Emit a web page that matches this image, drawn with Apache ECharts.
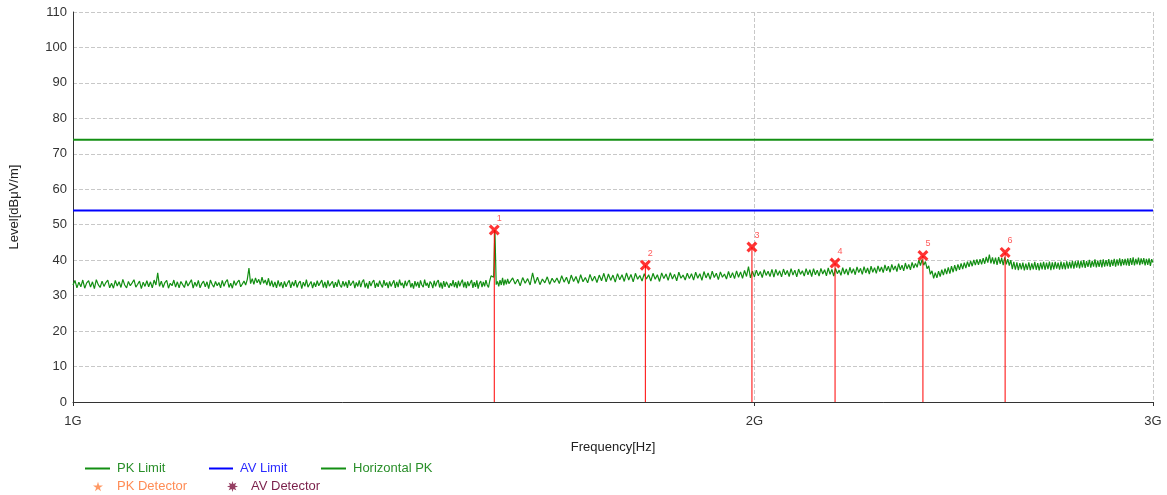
<!DOCTYPE html>
<html>
<head>
<meta charset="utf-8">
<script src="https://cdn.jsdelivr.net/npm/echarts@6/dist/echarts.min.js"></script>
<style>
html,body{margin:0;padding:0;background:#fff;}
#chart{width:1167px;height:495px;}
</style>
</head>
<body>
<div id="chart"></div>
<script>
// ---- data ----
// Sweep segment 1: 1000 MHz .. 1558 MHz, 2 MHz step
const seg1StartMHz = 1000;
const seg1StepMHz = 2;
const horizontalPKSeg1 = [
33.0,34.3,32.2,33.8,32.5,34.4,32.1,33.6,34.2,32.4,33.9,32.0,34.5,33.1,32.3,34.1,32.6,33.7,34.4,32.2,
33.5,32.1,34.3,32.7,33.9,32.3,34.6,33.0,32.2,34.0,32.8,33.6,34.5,32.4,33.2,34.1,32.0,33.8,32.6,34.2,
32.5,33.9,32.2,34.4,33.0,36.4,32.6,34.1,32.3,33.7,34.3,32.1,33.5,32.8,34.4,32.4,33.9,32.2,34.0,33.1,
32.3,34.2,32.7,33.6,34.5,32.1,33.8,32.6,34.3,32.2,33.4,34.1,32.5,33.9,32.0,34.4,33.2,32.4,34.0,32.8,
33.7,32.2,34.3,32.6,33.9,34.5,32.3,33.5,32.1,34.2,32.9,33.8,34.4,32.5,33.3,34.1,33.0,34.6,37.8,33.4,
34.8,33.2,35.0,33.6,34.6,33.1,35.2,33.5,34.4,33.0,34.9,32.7,34.2,32.4,33.9,32.2,34.3,32.6,33.8,32.1,
34.0,32.5,33.6,34.3,32.2,33.9,32.7,34.4,32.3,33.5,34.1,32.0,33.8,32.6,34.5,32.4,33.2,34.0,32.1,33.7,
32.5,34.2,32.8,33.6,34.4,32.3,33.9,32.1,34.3,32.7,33.4,34.0,32.2,33.8,32.5,34.5,33.0,32.3,34.1,32.6,
33.9,32.2,34.4,32.8,33.5,34.2,32.1,33.7,32.6,34.3,32.4,33.9,34.5,32.3,33.6,32.0,34.1,32.7,33.8,34.4,
32.2,33.6,32.5,34.2,33.1,32.3,34.4,32.8,33.7,32.1,34.0,32.6,33.5,34.3,32.2,33.9,32.4,34.5,32.9,33.6,
32.1,34.2,32.7,33.8,34.4,32.3,33.5,32.0,34.1,32.6,33.9,32.2,34.3,33.0,32.4,34.5,32.8,33.6,32.2,34.0,
33.4,32.1,34.2,32.6,33.8,34.4,32.3,33.7,32.0,34.1,32.5,33.9,34.3,32.2,33.5,32.7,34.4,32.4,33.8,32.1,
34.2,32.6,33.7,34.5,32.3,33.9,32.1,34.0,32.7,33.6,34.4,32.2,33.8,32.5,34.3,32.0,33.5,34.1,32.4,33.9,
32.6,34.4,33.0,32.3,34.2,35.6,36.0,35.2,48.5,33.1,34.0,32.6,34.4,33.0,35.0,32.9,34.5,33.2,34.7,33.4
];
// Sweep segment 2: 1560 MHz .. 3000 MHz, 4 MHz step
const seg2StartMHz = 1560;
const seg2StepMHz = 4;
const horizontalPKSeg2 = [
32.9,35.0,33.3,34.6,32.8,35.1,33.5,34.8,33.0,36.4,33.4,35.2,33.1,34.7,33.6,35.3,33.2,34.9,33.7,35.0,
33.4,35.6,33.8,35.2,33.3,35.8,34.0,35.4,33.5,35.9,33.9,35.1,33.6,36.0,34.1,35.5,33.7,35.8,34.2,36.3,
33.9,36.1,34.3,35.8,33.8,36.2,34.5,35.9,34.0,36.4,34.4,36.0,33.9,36.3,34.6,35.7,34.1,36.2,34.7,35.9,
34.1,36.3,34.6,35.9,34.0,36.4,34.8,36.1,34.3,36.5,34.7,36.0,34.2,36.6,34.9,35.8,34.4,36.3,34.8,36.2,
34.4,36.6,34.9,36.2,34.3,36.8,35.0,36.4,34.6,36.9,35.1,36.3,34.5,36.7,35.2,36.1,34.7,36.8,35.0,36.5,
34.8,37.0,35.2,36.7,34.9,37.1,35.4,38.2,35.0,36.9,35.3,37.2,35.6,36.8,35.1,37.3,35.7,36.9,35.4,37.4,
35.2,37.4,35.7,37.0,35.3,37.5,35.9,37.1,35.4,37.6,35.8,37.2,35.3,37.5,36.0,37.0,35.5,37.6,35.9,37.3,
35.4,37.6,35.9,37.2,35.5,37.7,36.1,37.3,35.6,37.8,36.0,37.4,35.5,37.7,36.2,37.2,35.7,37.9,36.1,37.5,
35.8,38.0,36.3,37.6,35.9,38.1,36.5,37.7,36.0,38.2,36.4,37.8,36.1,38.3,36.6,37.9,36.3,38.4,36.8,38.1,
36.5,38.7,37.0,38.3,36.6,38.8,37.2,38.4,36.8,39.0,37.3,38.6,37.0,39.2,37.5,38.8,37.3,39.4,37.8,39.1,
38.0,40.0,38.5,40.2,38.6,39.6,37.6,38.4,36.0,37.0,34.9,36.5,35.0,36.9,35.4,37.3,35.8,37.6,36.1,38.0,
36.2,38.3,36.6,38.6,36.9,38.8,37.3,39.1,37.5,39.3,37.8,39.6,38.1,39.8,38.3,40.1,38.6,40.2,38.7,40.3,
38.8,40.6,39.0,40.9,39.3,41.6,39.1,40.8,38.9,40.7,38.7,40.9,39.0,40.6,38.6,40.8,38.8,40.3,38.5,40.0,
37.5,39.5,37.3,39.4,37.2,39.2,37.4,39.3,37.1,39.0,37.3,39.4,37.2,39.1,37.4,39.5,37.3,39.2,37.1,39.3,
37.4,39.5,37.3,39.3,37.5,39.6,37.2,39.4,37.4,39.5,37.6,39.3,37.3,39.6,37.5,39.4,37.4,39.7,37.6,39.5,
37.7,39.8,37.6,39.7,37.9,39.9,37.7,39.8,38.0,40.0,37.8,39.7,38.1,40.1,37.9,39.8,38.2,40.2,38.0,39.9,
38.1,40.1,38.0,40.2,38.2,40.0,38.3,40.3,38.1,40.1,38.4,40.4,38.2,40.2,38.5,40.5,38.3,40.3,38.6,40.4,
38.5,40.5,38.4,40.6,38.7,40.8,38.5,40.4,38.8,40.7,38.6,40.5,38.9,40.6,38.5,40.4,38.7,40.5,38.4,40.3,
39.3
];
const limitFreqMHz = [1000, 3000];
const pkLimit = [74, 74];
const avLimit = [54, 54];
const markerFreqMHz = [1535, 1790, 1995, 2171, 2374, 2581];
const markerLevel = [48.5, 38.6, 43.7, 39.2, 41.3, 42.2];
const markerNo = ['1', '2', '3', '4', '5', '6'];
const xTickMHz = [1000, 2000, 3000];
const xTickLabels = ['1G', '2G', '3G'];

// ---- build ----
const traceData = horizontalPKSeg1.map((v, i) => [seg1StartMHz + i * seg1StepMHz, v])
  .concat(horizontalPKSeg2.map((v, i) => [seg2StartMHz + i * seg2StepMHz, v]));
const font = 'Liberation Sans, Arial, sans-serif';
const GREEN = '#138f13';
const STAR = 'path://M50,0 L61,35 L98,35 L68,57 L79,91 L50,70 L21,91 L32,57 L2,35 L39,35 Z';
const BURST = 'path://M50,0 L58,28 L85,15 L72,42 L100,50 L72,58 L85,85 L58,72 L50,100 L42,72 L15,85 L28,58 L0,50 L28,42 L15,15 L42,28 Z';
const XMARK = 'path://M2,0 L5,3 L8,0 L10,2 L7,5 L10,8 L8,10 L5,7 L2,10 L0,8 L3,5 L0,2 Z';

const stems = markerFreqMHz.map((f, i) => ({
  type: 'line', name: 'stem' + i, data: [[f, 0], [f, markerLevel[i]]],
  symbol: 'none', lineStyle: { color: '#ff0000', width: 1 }, silent: true, z: 3,
  animation: false
}));

function leg(name, left, top, icon, color, textColor, w, h, padLeft) {
  return {
    data: [{ name: name, icon: icon, itemStyle: { color: color } }],
    left: left, top: top, itemWidth: w, itemHeight: h, padding: 0,
    textStyle: { fontFamily: font, fontSize: 13, color: textColor, padding: [0, 0, 0, padLeft] },
    selectedMode: false
  };
}

const option = {
  animation: false,
  backgroundColor: '#fff',
  grid: { left: 73, right: 14, top: 12, bottom: 93 },
  legend: [
    leg('PK Limit', 85, 462, 'rect', GREEN, '#2a8f2a', 25, 2, 2),
    leg('AV Limit', 209, 462, 'rect', '#0000ff', '#2b2bff', 24, 2, 2),
    leg('Horizontal PK', 321, 462, 'rect', GREEN, '#2a8f2a', 25, 2, 2),
    leg('PK Detector', 93, 480, STAR, '#ff7f3f', '#ff8c55', 10, 10, 9),
    leg('AV Detector', 227, 480, BURST, '#7a0f3c', '#7a1f4a', 11, 11, 8)
  ],
  xAxis: {
    type: 'log', logBase: 10, min: 1000, max: 3000,
    name: 'Frequency[Hz]', nameLocation: 'middle', nameGap: 39,
    nameTextStyle: { fontFamily: font, fontSize: 13, color: '#222' },
    axisLine: { lineStyle: { color: '#333', width: 1 } },
    axisTick: { show: true, customValues: xTickMHz, length: 4, lineStyle: { color: '#333' } },
    axisLabel: {
      customValues: xTickMHz, margin: 13, fontFamily: font, fontSize: 13, color: '#333',
      formatter: v => xTickLabels[xTickMHz.indexOf(Math.round(v))] || ''
    },
    splitLine: { show: true, lineStyle: { color: '#c8c8c8', type: 'dashed', width: 1 } },
    minorTick: { show: false }, minorSplitLine: { show: false }
  },
  yAxis: {
    type: 'value', min: 0, max: 110, interval: 10,
    name: 'Level[dB\u03bcV/m]', nameLocation: 'middle', nameGap: 52, nameRotate: 90,
    nameTextStyle: { fontFamily: font, fontSize: 13, color: '#222' },
    axisLine: { show: true, lineStyle: { color: '#333', width: 1 } },
    axisTick: { show: false },
    axisLabel: { margin: 6, fontFamily: font, fontSize: 13, color: '#333' },
    splitLine: { show: true, lineStyle: { color: '#c8c8c8', type: 'dashed', width: 1 } }
  },
  series: [
    { type: 'line', name: 'PK Limit', data: limitFreqMHz.map((f, i) => [f, pkLimit[i]]),
      symbol: 'none', lineStyle: { color: GREEN, width: 2 }, itemStyle: { color: GREEN }, z: 2 },
    { type: 'line', name: 'AV Limit', data: limitFreqMHz.map((f, i) => [f, avLimit[i]]),
      symbol: 'none', lineStyle: { color: '#0000ff', width: 2 }, itemStyle: { color: '#0000ff' }, z: 2 },
    { type: 'line', name: 'Horizontal PK', data: traceData,
      symbol: 'none', lineStyle: { color: GREEN, width: 1.2 }, itemStyle: { color: GREEN }, z: 2 },
    ...stems,
    { type: 'scatter', name: 'markers', data: markerFreqMHz.map((f, i) => ({ value: [f, markerLevel[i]], label: { formatter: markerNo[i] } })),
      symbol: XMARK, symbolSize: 11, itemStyle: { color: '#ff0000' }, z: 5,
      label: { show: true, position: [8, -11], fontFamily: font, fontSize: 9, color: '#ff3030' } },
    { type: 'scatter', name: 'PK Detector', data: [], symbol: STAR, itemStyle: { color: '#ff7f3f' } },
    { type: 'scatter', name: 'AV Detector', data: [], symbol: BURST, itemStyle: { color: '#7a0f3c' } }
  ]
};

const chart = echarts.init(document.getElementById('chart'), null, { renderer: 'canvas' });
chart.setOption(option);
</script>
</body>
</html>
